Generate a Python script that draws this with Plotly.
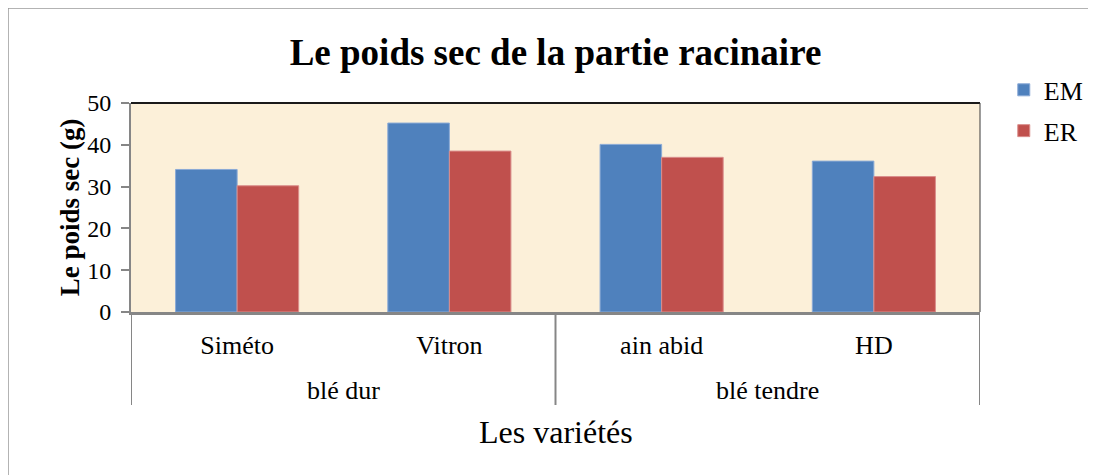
import plotly.graph_objects as go

# data
varieties = ['Siméto', 'Vitron', 'ain abid', 'HD']
groups = ['blé dur', 'blé tendre']
group_centers = [0.5, 2.5]          # category positions of each group's centre
group_edges = [-0.5, 1.5, 3.5]      # divider positions between groups
em_values = [34.1, 45.2, 40.1, 36.1]
er_values = [30.2, 38.5, 37.0, 32.4]
y_ticks = [0, 10, 20, 30, 40, 50]

FONT = 'Liberation Serif'
AXIS_GREY = '#868686'

# plot area in figure px: left 123, top 95, width 849, height 209
PW, PH = 849.0, 209.0


def px_y(dy):
    """paper y for a distance dy (px) below the bottom of the plot area"""
    return -dy / PH


fig = go.Figure()

fig.add_trace(go.Bar(
    x=varieties, y=em_values, name='EM', legendgroup='EM',
    marker=dict(color='#4F81BD', line=dict(color='#8AAAD6', width=1)),
))
fig.add_trace(go.Bar(
    x=varieties, y=er_values, name='ER', legendgroup='ER',
    marker=dict(color='#C0504D', line=dict(color='#DA8E8C', width=1)),
))

# outer chart border, starting at figure corner and running off the window
fig.add_shape(type='rect', xref='paper', yref='paper',
              x0=-123 / PW, x1=(1100 - 123) / PW,
              y0=px_y(480 - 304), y1=304 / PH,
              line=dict(color='#9A9A9A', width=1.5), layer='below')

# dark top and right edge of the plot area
fig.add_shape(type='line', xref='paper', yref='paper', x0=0, x1=1, y0=1, y1=1,
              line=dict(color='#1A1A1A', width=2))
fig.add_shape(type='line', xref='paper', yref='paper', x0=1, x1=1, y0=0, y1=1,
              line=dict(color='#3A3A3A', width=1))

# group dividers under the category axis
for edge in group_edges:
    fig.add_shape(type='line', xref='x', yref='paper', x0=edge, x1=edge,
                  y0=0, y1=px_y(93), line=dict(color=AXIS_GREY, width=2))

# group labels
for name, cx in zip(groups, group_centers):
    fig.add_annotation(x=cx, y=px_y(78), xref='x', yref='paper', text=name,
                       showarrow=False, yanchor='middle',
                       font=dict(family=FONT, size=26))

# x axis title
fig.add_annotation(x=0.5, y=px_y(120), xref='paper', yref='paper',
                   text='Les variétés', showarrow=False, yanchor='middle',
                   font=dict(family=FONT, size=32))

fig.update_layout(
    width=1096,
    height=475,
    barmode='group',
    bargap=0.42,
    bargroupgap=0,
    paper_bgcolor='white',
    plot_bgcolor='#FCF0D9',
    font=dict(family=FONT, color='black', size=20),
    title=dict(
        text='<b>Le poids sec de la partie racinaire</b>',
        x=0.5, xanchor='center', xref='paper',
        y=1 - 44 / 475, yanchor='middle',
        font=dict(family=FONT, size=37),
    ),
    xaxis=dict(
        type='category',
        range=[-0.5, 3.5],
        showline=True,
        linecolor=AXIS_GREY,
        linewidth=3,
        ticks='',
        ticklabelstandoff=8,
        tickfont=dict(family=FONT, size=26),
    ),
    yaxis=dict(
        range=[0, 50],
        tickvals=y_ticks,
        showgrid=False,
        showline=True,
        linecolor=AXIS_GREY,
        linewidth=2,
        ticks='outside',
        ticklen=8,
        tickcolor=AXIS_GREY,
        tickwidth=2,
        ticklabelstandoff=5,
        tickfont=dict(family=FONT, size=24),
        title=dict(text='<b>Le poids sec (g)</b>', font=dict(family=FONT, size=27),
                   standoff=0),
        zeroline=False,
    ),
    legend=dict(
        x=1.028, xanchor='left',
        y=1.175, yanchor='top',
        font=dict(family=FONT, size=26),
        itemwidth=30,
        tracegroupgap=4,
        traceorder='grouped',
    ),
    margin=dict(l=123, r=124, t=95, b=171),
)

fig.write_html('out.html')
